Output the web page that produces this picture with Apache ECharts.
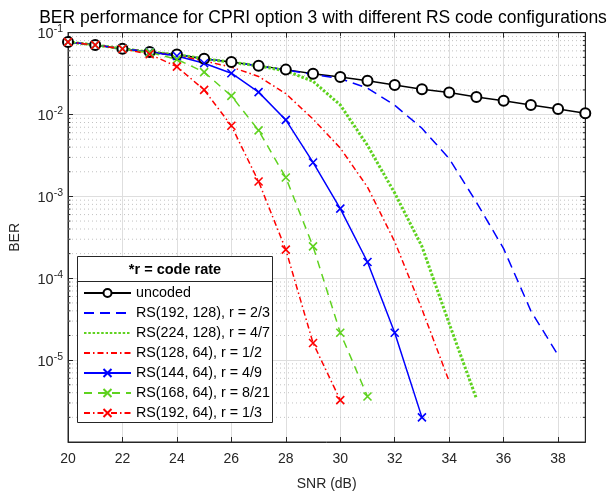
<!DOCTYPE html>
<html>
<head>
<meta charset="utf-8">
<script src="https://cdn.jsdelivr.net/npm/echarts@6/dist/echarts.min.js"></script>
<style>
html,body{margin:0;padding:0;background:#fff;}
#chart{width:611px;height:496px;}
</style>
</head>
<body>
<div id="chart"></div>
<script>
// ---- data ----
const snr = [20,21,22,23,24,25,26,27,28,29,30,31,32,33,34,35,36,37,38,39];
const seriesNames = ['uncoded','RS(192, 128), r = 2/3','RS(224, 128), r = 4/7','RS(128, 64), r = 1/2','RS(144, 64), r = 4/9','RS(168, 64), r = 8/21','RS(192, 64), r = 1/3'];
const uncoded  = [0.077,0.0708,0.0638,0.0582,0.054,0.0482,0.044,0.0396,0.0354,0.0316,0.0287,0.0258,0.0230,0.0204,0.0186,0.0164,0.0147,0.0131,0.0117,0.0104];
const rs192_128 = [0.077,0.0708,0.0638,0.0581,0.0538,0.048,0.0437,0.0393,0.035,0.031,0.0275,0.021,0.013,0.0068,0.0029,0.00085,0.00023,0.00004,0.0000115];
const rs224_128 = [0.077,0.0708,0.0638,0.0581,0.0538,0.048,0.0437,0.0393,0.0342,0.0255,0.0131,0.0042,0.0011,0.000245,0.000028,0.0000034];
const rs128_64 = [0.077,0.0708,0.0637,0.0578,0.0525,0.0452,0.038,0.0292,0.018,0.0088,0.0039,0.0013,0.00028,0.000042,0.0000055];
const rs144_64 = [0.077,0.0708,0.0637,0.058,0.052,0.0423,0.032,0.0188,0.0086,0.0026,0.00071,0.000158,0.0000216,0.000002];
const rs168_64 = [0.077,0.0708,0.0636,0.0575,0.0473,0.033,0.0169,0.0064,0.0017,0.000245,0.0000216,0.0000036];
const rs192_64 = [0.077,0.0707,0.0633,0.0545,0.0385,0.02,0.0073,0.00152,0.000224,0.0000162,0.00000325];
const xTicks = [20,22,24,26,28,30,32,34,36,38];

// ---- helpers ----
const FONT = '"Liberation Sans", Arial, Helvetica, sans-serif';
const AX = '#262626';
function pairs(vals){ return vals.map((v,i)=>[snr[i], v]); }
const xPath = 'path://M0,0L10,10M10,0L0,10';

// minor grid / minor ticks (axis decoration, drawn through the axes)
const minorVals = [];
for (let p=-6; p<=-2; p++) for (let k=2; k<=9; k++) minorVals.push(k*Math.pow(10,p));
const minorGridData = [];
const minorTickData = [];
minorVals.forEach(v=>{
  minorGridData.push([20, v], [39, v], [39, '-']);
  minorTickData.push([20, v], [20.09, v], [20.09, '-'], [38.91, v], [39, v], [39, '-']);
});

const hiddenSym = {color:'rgba(0,0,0,0)', borderColor:'rgba(0,0,0,0)', borderWidth:0};

const chart = echarts.init(document.getElementById('chart'), null, {renderer:'canvas'});
const option = {
  animation:false,
  backgroundColor:'#fff',
  textStyle:{fontFamily:FONT},
  title:{
    text:'BER performance for CPRI option 3 with different RS code configurations',
    left:318, top:4, textAlign:'center',
    textStyle:{fontFamily:FONT, fontSize:17.5, fontWeight:'normal', color:'#000'}
  },
  grid:{left:67.5, top:32.7, width:517.8, height:410, show:true, borderColor:AX, borderWidth:1, backgroundColor:'transparent'},
  legend:{
    show:true, orient:'vertical', left:83, top:286, padding:0,
    itemWidth:47, itemHeight:10, itemGap:6, selectedMode:false, z:6,
    data:[
      {name:seriesNames[0]},
      {name:seriesNames[1], itemStyle:hiddenSym},
      {name:seriesNames[2], itemStyle:hiddenSym},
      {name:seriesNames[3], itemStyle:hiddenSym},
      {name:seriesNames[4]},
      {name:seriesNames[5]},
      {name:seriesNames[6]}
    ],
    textStyle:{fontFamily:FONT, fontSize:14.3, color:'#000'}
  },
  graphic:[
    {type:'rect', z:3, shape:{x:77.5, y:256.5, width:195, height:166}, style:{fill:'#fff', stroke:AX, lineWidth:1}},
    {type:'line', z:5, shape:{x1:77.5, y1:281.5, x2:272.5, y2:281.5}, style:{stroke:AX, lineWidth:1}},
    {type:'text', z:5, x:175, y:270, style:{text:'*r = code rate', font:'bold 14.5px '+FONT, fill:'#000', textAlign:'center', textVerticalAlign:'middle'}}
  ],
  xAxis:[{
    type:'value', min:20, max:39, interval:2, position:'bottom',
    name:'SNR (dB)', nameLocation:'middle', nameGap:35,
    nameTextStyle:{fontFamily:FONT, fontSize:14, color:AX},
    axisLine:{show:true, lineStyle:{color:AX, width:1}},
    axisTick:{show:true, inside:true, length:5, lineStyle:{color:AX}},
    axisLabel:{show:true, showMaxLabel:false, margin:10, fontFamily:FONT, fontSize:14, color:AX,
      formatter:v=> xTicks.indexOf(v)>=0 ? String(v) : ''},
    splitLine:{show:true, lineStyle:{color:'#dedede', width:1}}
  },{
    type:'value', min:20, max:39, interval:2, position:'top',
    axisLine:{show:true, lineStyle:{color:AX}},
    axisTick:{show:true, inside:true, length:5, lineStyle:{color:AX}},
    axisLabel:{show:false}, splitLine:{show:false}
  }],
  yAxis:[{
    type:'log', logBase:10, min:1e-6, max:1e-1, position:'left',
    name:'BER', nameLocation:'middle', nameGap:46, nameRotate:90,
    nameTextStyle:{fontFamily:FONT, fontSize:14, color:AX},
    axisLine:{show:true, lineStyle:{color:AX, width:1}},
    axisTick:{show:true, inside:true, length:5, lineStyle:{color:AX}},
    axisLabel:{show:true, showMinLabel:false, margin:5, fontFamily:FONT, color:AX,
      formatter:v=>{ const e=Math.round(Math.log10(v)); return '{b|10}{s|'+e+'}'; },
      rich:{
        b:{fontFamily:FONT, fontSize:14.5, color:AX, lineHeight:18, verticalAlign:'bottom'},
        s:{fontFamily:FONT, fontSize:10.5, color:AX, lineHeight:18, verticalAlign:'top'}
      }
    },
    splitLine:{show:true, lineStyle:{color:'#dedede', width:1}}
  },{
    type:'log', logBase:10, min:1e-6, max:1e-1, position:'right',
    axisLine:{show:true, lineStyle:{color:AX}},
    axisTick:{show:true, inside:true, length:5, lineStyle:{color:AX}},
    axisLabel:{show:false}, splitLine:{show:false}
  }],
  series:[
    {name:'_minorGrid', type:'line', data:minorGridData, z:1, silent:true, symbol:'none', connectNulls:false,
     lineStyle:{color:'#c2c2c2', width:1, type:[1,3]}},
    {name:'_minorTicks', type:'line', data:minorTickData, z:1, silent:true, symbol:'none', connectNulls:false,
     lineStyle:{color:AX, width:1, type:'solid'}},
    {name:seriesNames[0], type:'line', data:pairs(uncoded), symbol:'emptyCircle', symbolSize:10,
     lineStyle:{color:'#000', width:1.5, type:'solid'},
     itemStyle:{color:'#000', borderColor:'#000', borderWidth:1.5}},
    {name:seriesNames[1], type:'line', data:pairs(rs192_128), symbol:'none',
     lineStyle:{color:'#0000ff', width:1.5, type:[10,6]}, itemStyle:{color:'#0000ff'}},
    {name:seriesNames[2], type:'line', data:pairs(rs224_128), symbol:'none',
     lineStyle:{color:'#5fd21f', width:3, type:[2.5,1.8]}, itemStyle:{color:'#5fd21f'}},
    {name:seriesNames[3], type:'line', data:pairs(rs128_64), symbol:'none',
     lineStyle:{color:'#ff0000', width:1.5, type:[6,3,1.5,3]}, itemStyle:{color:'#ff0000'}},
    {name:seriesNames[4], type:'line', data:pairs(rs144_64), symbol:xPath, symbolSize:8,
     lineStyle:{color:'#0000ff', width:1.5, type:'solid'},
     itemStyle:{color:'#0000ff', borderColor:'#0000ff', borderWidth:1.6}},
    {name:seriesNames[5], type:'line', data:pairs(rs168_64), symbol:xPath, symbolSize:8,
     lineStyle:{color:'#5fd21f', width:1.5, type:[8,6]},
     itemStyle:{color:'#5fd21f', borderColor:'#5fd21f', borderWidth:1.6}},
    {name:seriesNames[6], type:'line', data:pairs(rs192_64), symbol:xPath, symbolSize:8,
     lineStyle:{color:'#ff0000', width:1.5, type:[6,3,1.5,3]},
     itemStyle:{color:'#ff0000', borderColor:'#ff0000', borderWidth:1.6}}
  ]
};
chart.setOption(option);
</script>
</body>
</html>
